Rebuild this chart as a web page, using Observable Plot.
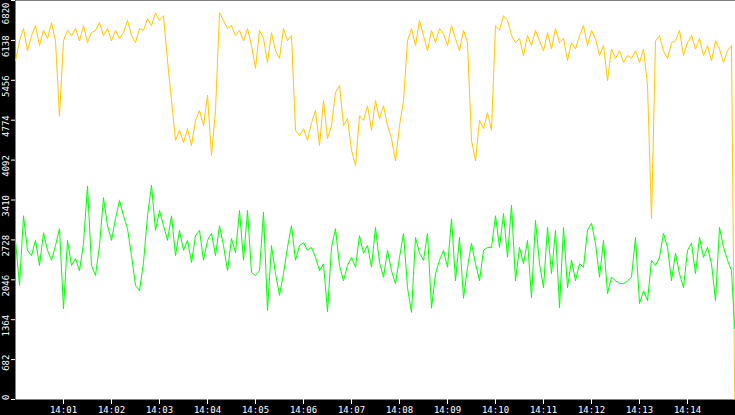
<!DOCTYPE html>
<html><head><meta charset="utf-8">
<script src="https://cdn.jsdelivr.net/npm/d3@7"></script>
<script src="https://cdn.jsdelivr.net/npm/@observablehq/plot@0.6"></script>
<style>html,body{margin:0;padding:0;background:#000;overflow:hidden}</style>
</head><body><div id="chart"></div>
<script>
const startTime = "2024-01-01T14:00:00Z";
const endTime = "2024-01-01T14:15:00Z";
const stepSeconds = 5;
const lastSecond = 899;

const yellowValues = [
5790,6130,6340,5960,6220,6390,6050,6310,6170,6440,6130,4840,6130,6310,6220,6340,6130,6390,6100,6270,
6310,6440,6220,6340,6130,6310,6170,6270,6480,6220,6100,6340,6310,6510,6390,6610,6480,6560,5790,5110,
4430,4600,4390,4630,4340,4770,4940,4680,5200,4170,4940,6610,6480,6340,6390,6220,6310,
6130,6340,6050,5660,6310,6170,5760,6270,5960,5830,6340,6130,6220,4600,4510,4630,4430,4730,4940,4340,
5110,4460,4680,5250,5370,4680,4800,4260,4000,4850,4770,5020,4600,5110,4800,5020,4680,4460,4080,4680,
5110,6130,6340,6050,6480,6220,5960,6310,6100,6340,6250,6050,6390,6170,5960,6310,6100,4430,4080,4770,
4630,4900,4600,6390,6310,6560,6480,6220,6100,6170,5880,6220,6050,6310,6130,5960,6270,5990,6340,6100,
6170,5790,6100,5990,6220,6390,6050,6310,6170,5880,6050,5450,5990,5830,5960,5760,5880,5830,5960,5760,
5990,5370,3090,6130,6220,5960,5830,6100,6130,6310,5880,6100,6220,5990,6170,5880,6050,5790,6130,5990,
5760,5960,6050,0
];

const greenValues = [
2720,1950,3140,2550,2460,2720,2290,2850,2550,2380,2630,2920,1550,2720,2290,2410,2200,2670,3650,2290,
2120,2630,3450,2970,2720,3090,3400,3140,2920,2460,1950,1860,2340,3140,3660,2890,3230,2970,2720,3140,
2460,2890,2550,2720,2340,2800,2890,2380,2720,2840,2460,2970,2630,2200,2750,2510,3230,
2380,3230,2170,2120,2200,3200,1520,2630,2150,1780,2150,2600,2970,2380,2630,2680,2550,2600,2430,2200,
2320,1500,2600,2920,2290,2030,2290,2430,2260,2800,2500,2630,2260,2940,2340,2090,2550,2200,1980,2430,
2840,1910,1490,2770,2500,2380,2840,1560,2150,2380,2550,2260,3090,2030,2770,1730,2260,2670,2320,2030,
2550,2600,
2600,3140,2600,3180,2430,3320,2030,2600,2320,2720,1740,3060,2320,1910,2940,2150,2890,1570,2940,1910,
2380,2030,2320,2260,2890,3010,2670,2090,2720,1810,2090,2030,1980,1980,2030,2090,2770,1640,1860,1690,
2380,2290,2430,2840,2600,2030,2500,2150,1910,2550,2670,2150,2770,2430,2600,2320,1690,2940,2600,2380,
2200,1210
];

const yTicks = [0,682,1364,2046,2728,3410,4092,4774,5456,6138,6820];
const xTickLabels = ["14:01","14:02","14:03","14:04","14:05","14:06","14:07","14:08","14:09","14:10","14:11","14:12","14:13","14:14"];

const t0 = new Date(startTime);
const t1 = new Date(endTime);
function timeAt(i, n) {
  const s = i === n - 1 ? lastSecond : i * stepSeconds;
  return new Date(+t0 + s * 1000);
}
const yellowData = yellowValues.map((v, i) => ({t: timeAt(i, yellowValues.length), v}));
const greenData = greenValues.map((v, i) => ({t: timeAt(i, greenValues.length), v}));
const xTicks = xTickLabels.map(l => new Date(`2024-01-01T${l}:00Z`));

const font = "'DejaVu Sans Mono', monospace";
const plot = Plot.plot({
  width: 735, height: 415,
  marginLeft: 15, marginRight: 0, marginTop: 0, marginBottom: 16,
  style: {background: "black", color: "white", fontFamily: font, fontSize: "9px"},
  x: {type: "utc", domain: [t0, t1]},
  y: {domain: [0, 6820]},
  marks: [
    Plot.frame({fill: "white", stroke: null}),
    Plot.line(yellowData, {x: "t", y: "v", stroke: "#ffc800", strokeWidth: 1}),
    Plot.line(greenData, {x: "t", y: "v", stroke: "#00ff00", strokeWidth: 1}),
    Plot.axisX(xTicks, {tickSize: 5, tickPadding: 2, tickFormat: d3.utcFormat("%H:%M"), label: null, stroke: "white", fill: "white"}),
    Plot.axisY(yTicks, {tickSize: 4, tickFormat: () => "", label: null, stroke: "white"}),
    Plot.text(yTicks.slice(0, -1), {y: d => d, text: d => String(d), frameAnchor: "left", dx: -9, dy: -5, rotate: -90, textAnchor: "end", lineAnchor: "middle", fill: "white"}),
    Plot.text(yTicks.slice(-1), {y: d => d, text: d => String(d), frameAnchor: "left", dx: -9, dy: 2, rotate: -90, textAnchor: "end", lineAnchor: "middle", fill: "white"})
  ]
});
document.getElementById("chart").append(plot);
</script>
</body></html>
